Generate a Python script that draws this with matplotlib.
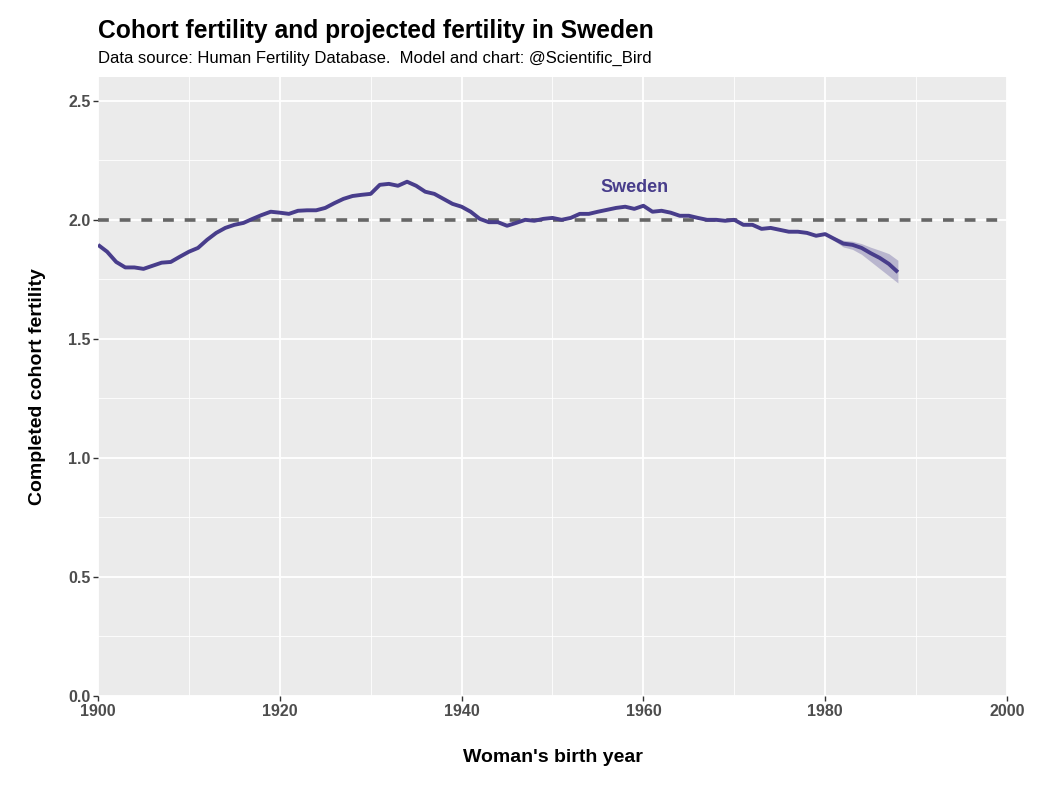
import matplotlib
matplotlib.use("Agg")
import matplotlib.pyplot as plt
from matplotlib.ticker import MultipleLocator

plt.rcParams["font.family"] = ["Liberation Sans", "DejaVu Sans"]

years = list(range(1900, 1989))
fertility = [1.895, 1.866, 1.823, 1.80, 1.80, 1.794, 1.807, 1.82, 1.823, 1.845,
             1.866, 1.882, 1.916, 1.945, 1.966, 1.979, 1.987, 2.004, 2.02, 2.034,
             2.03, 2.025, 2.038, 2.04, 2.04, 2.05, 2.07, 2.088, 2.10, 2.105,
             2.109, 2.147, 2.151, 2.143, 2.16, 2.143, 2.118, 2.109, 2.088, 2.067,
             2.055, 2.034, 2.004, 1.99, 1.99, 1.975, 1.987, 2.0, 1.996, 2.004,
             2.008, 2.0, 2.008, 2.025, 2.025, 2.034, 2.042, 2.05, 2.055, 2.046,
             2.059, 2.034, 2.038, 2.03, 2.017, 2.017, 2.008, 2.0, 2.0, 1.996,
             2.0, 1.979, 1.979, 1.962, 1.966, 1.958, 1.95, 1.95, 1.945, 1.933,
             1.94, 1.92, 1.90, 1.895, 1.882, 1.86, 1.84, 1.815, 1.78]

# projection band
band_years = list(range(1980, 1989))
band_low = [1.94, 1.912, 1.886, 1.876, 1.855, 1.825, 1.795, 1.765, 1.735]
band_high = [1.94, 1.928, 1.914, 1.910, 1.900, 1.885, 1.872, 1.858, 1.830]

replacement = 2.0

fig = plt.figure(figsize=(10.45, 7.91), dpi=100)
ax = fig.add_axes([0.0938, 0.1201, 0.8698, 0.7826])
ax.set_facecolor("#EBEBEB")

ax.fill_between(band_years, band_low, band_high, color="#483D8B", alpha=0.3, lw=0)
ax.axhline(replacement, color="#666666", lw=2.6, ls=(0, (3, 3)), zorder=3)
ax.plot(years, fertility, color="#483D8B", lw=2.8, zorder=4, solid_capstyle="butt")
ax.text(1959, 2.135, "Sweden", color="#483D8B", fontsize=13, fontweight="bold",
        ha="center", va="center")

ax.set_xlim(1900, 2000)
ax.set_ylim(0, 2.6)
ax.xaxis.set_major_locator(MultipleLocator(20))
ax.xaxis.set_minor_locator(MultipleLocator(10))
ax.yaxis.set_major_locator(MultipleLocator(0.5))
ax.yaxis.set_minor_locator(MultipleLocator(0.25))
ax.yaxis.set_major_formatter(matplotlib.ticker.FormatStrFormatter("%.1f"))
ax.grid(which="major", color="white", lw=1.3)
ax.grid(which="minor", color="white", lw=0.6)
ax.set_axisbelow(True)
for s in ax.spines.values():
    s.set_visible(False)
ax.tick_params(which="major", length=3.5, width=1, color="#333333", labelsize=11.5,
               labelcolor="#4D4D4D", pad=2)
ax.tick_params(which="minor", length=0)
for lab in ax.get_xticklabels() + ax.get_yticklabels():
    lab.set_fontweight("bold")

ax.set_xlabel("Woman's birth year", fontsize=14, fontweight="bold", labelpad=22)
ax.set_ylabel("Completed cohort fertility", fontsize=14, fontweight="bold", labelpad=16)

fig.text(0.0938, 0.946, "Cohort fertility and projected fertility in Sweden",
         fontsize=17.7, fontweight="bold", ha="left", va="bottom")
fig.text(0.0938, 0.917, "Data source: Human Fertility Database.  Model and chart: @Scientific_Bird",
         fontsize=12, ha="left", va="bottom")

fig.savefig("out.png", dpi=100)
